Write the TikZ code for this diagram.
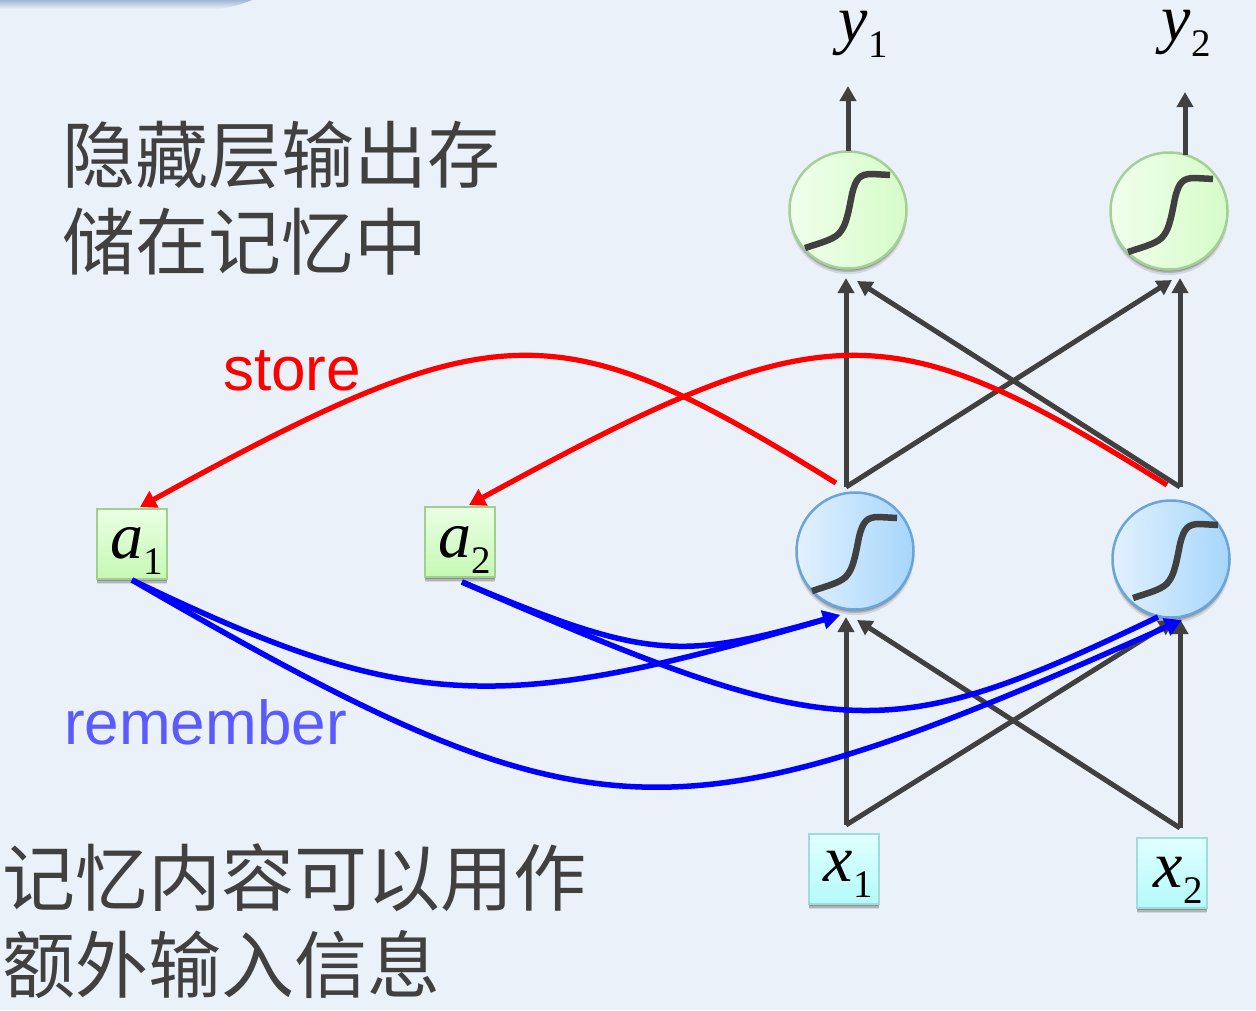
\documentclass[tikz,border=0pt]{standalone}
\usepackage{fontspec}
\setmainfont{Liberation Sans}
\newfontfamily\cjk{Noto Sans CJK SC}[Scale=1]
\newfontfamily\tms{Liberation Serif}
\usetikzlibrary{arrows.meta,shadows}
\definecolor{bgc}{HTML}{EAF1F8}
\definecolor{ink}{HTML}{404040}
\definecolor{rem}{HTML}{5A5AFF}
\definecolor{bandc}{HTML}{A0B8D6}
\newcommand{\mv}[3]{{\tms\fontsize{66}{66}\selectfont\itshape #1\kern#3pt\raisebox{-16pt}{\fontsize{39}{39}\selectfont\upshape #2}}}
\newcommand{\sigcurve}[1]{\draw[sigline,shift={(#1)}] (-43,38) .. controls (-25,32) and (-12,29) .. (-7,21) .. controls (-2,14) and (0,5) .. (4,-16) .. controls (8,-32) and (12,-36) .. (24,-36) -- (42,-35);}
\tikzset{
  x=1pt,y=-1pt,
  softshadow/.style={
    general shadow={shadow xshift=0pt,shadow yshift=-5pt,shadow scale=1.01,fill=black,fill opacity=.10},
    general shadow={shadow xshift=0pt,shadow yshift=-3.5pt,shadow scale=1.0,fill=black,fill opacity=.16},
    general shadow={shadow xshift=0pt,shadow yshift=-2pt,shadow scale=1.0,fill=black,fill opacity=.20}},
  neuron/.style={circle,minimum size=117pt,inner sep=0pt,line width=2.5pt,softshadow},
  outn/.style={neuron,draw=outborder,left color=outl,right color=outr},
  hidn/.style={neuron,draw=hidborder,left color=hidl,right color=hidr},
  membox/.style={rectangle,minimum size=70pt,inner sep=0pt,line width=2.5pt,softshadow,draw=memb,top color=memt,bottom color=memd},
  inbox/.style={rectangle,minimum size=70pt,inner sep=0pt,line width=2.5pt,softshadow,draw=inb,top color=int,bottom color=ind},
  sigline/.style={draw=ink,line width=6.5pt},
  garrow/.style={draw=ink,line width=5pt,-{Triangle[width=16pt,length=15pt]}},
  rarrow/.style={draw=red,line width=5.2pt,-{Triangle[width=18pt,length=16pt]}},
  barrow/.style={draw=blue,line width=5.5pt,-{Triangle[width=18pt,length=17pt]}},
  bline/.style={draw=blue,line width=5.5pt},
  bigtext/.style={text=ink,anchor=west,align=left,inner sep=0pt,font=\cjk\fontsize{73}{87.5}\selectfont},
  lab/.style={anchor=west,inner sep=0pt,font=\fontsize{62}{62}\selectfont},
  var/.style={inner sep=0pt,text=black,anchor=base west},
}
\definecolor{outborder}{HTML}{A6CF98}
\definecolor{outl}{HTML}{F0FFEC}
\definecolor{outr}{HTML}{D6FCC8}
\definecolor{hidborder}{HTML}{6BA5D8}
\definecolor{hidl}{HTML}{E2F1FF}
\definecolor{hidr}{HTML}{A6D6FC}
\definecolor{memb}{HTML}{A0D08C}
\definecolor{memt}{HTML}{EAFFE4}
\definecolor{memd}{HTML}{C6F8B4}
\definecolor{inb}{HTML}{A0DCDC}
\definecolor{int}{HTML}{E0FFFF}
\definecolor{ind}{HTML}{B4FAFA}
\begin{document}
\begin{tikzpicture}
\useasboundingbox (0,0) rectangle (1256,1010);
\fill[bgc] (0,0) rectangle (1256,1010);
% top-left band
\begin{scope}
\clip (0,0) -- (252,0) .. controls (240,5) and (225,9) .. (215,9) -- (0,9) -- cycle;
\shade[top color=bandc,bottom color=bgc] (0,0) rectangle (260,9);
\end{scope}
% nodes
\node[outn] (o1) at (848,210) {};
\node[outn] (o2) at (1169,211) {};
\node[hidn] (h1) at (855,551) {};
\node[hidn] (h2) at (1171,559) {};
\node[membox] (a1) at (132,544) {};
\node[membox] (a2) at (460,542) {};
\node[inbox] (x1) at (844,869) {};
\node[inbox] (x2) at (1172,873) {};
\node[var] (a1t) at (110,558) {\mv{a}{1}{0}};
\node[var] (a2t) at (438,557) {\mv{a}{2}{0}};
\node[var] (x1t) at (823,881) {\mv{x}{1}{1}};
\node[var] (x2t) at (1153,887) {\mv{x}{2}{1}};
\node[var] (y1) at (838,41) {\mv{y}{1}{1}};
\node[var] (y2) at (1161,40) {\mv{y}{2}{1}};
\sigcurve{848,210}
\sigcurve{1171,214}
\sigcurve{855,553}
\sigcurve{1176,560}
% ports
\coordinate (o1out) at (848,151);
\coordinate (o1end) at (848,86);
\coordinate (o2out) at (1185,155);
\coordinate (o2end) at (1185,92);
\coordinate (o1inA) at (846,278);
\coordinate (o1inB) at (857,281);
\coordinate (o2inA) at (1172,280);
\coordinate (o2inB) at (1180,278);
\coordinate (h1out) at (846,487);
\coordinate (h2out) at (1180,487);
\coordinate (h1inA) at (846,617);
\coordinate (h1inB) at (857,620);
\coordinate (h2inA) at (1174,620);
\coordinate (h2inB) at (1180,619);
\coordinate (x1out) at (846,825);
\coordinate (x2out) at (1180,828);
\coordinate (h1red) at (836,483);
\coordinate (h2red) at (1167,485);
\coordinate (a1in) at (140,507);
\coordinate (a2in) at (469,505);
\coordinate (a1out) at (132,580);
\coordinate (a2out) at (462,582);
\coordinate (h1blue) at (840,615);
\coordinate (h2blueA) at (1158,617);
\coordinate (h2blueB) at (1182,620);
% gray connectors
\draw[garrow] (o1out) -- (o1end);
\draw[garrow] (o2out) -- (o2end);
\draw[garrow] (h1out) -- (o1inA);
\draw[garrow] (h1out) -- (o2inA);
\draw[garrow] (h2out) -- (o2inB);
\draw[garrow] (h2out) -- (o1inB);
\draw[garrow] (x1out) -- (h1inA);
\draw[garrow] (x1out) -- (h2inA);
\draw[garrow] (x2out) -- (h2inB);
\draw[garrow] (x2out) -- (h1inB);
% store
\draw[rarrow] (h1red) .. controls (557,310) and (498,310) .. (a1in);
\draw[rarrow] (h2red) .. controls (888,310) and (826,310) .. (a2in);
% remember
\draw[barrow] (a1out) .. controls (410,714) and (500,714) .. (h1blue);
\draw[barrow] (a2out) .. controls (647,660) and (680,660) .. (h1blue);
\draw[bline] (a2out) .. controls (840,747) and (885,747) .. (h2blueA);
\draw[barrow] (a1out) .. controls (595,848) and (670,848) .. (h2blueB);
% text
\node[bigtext] (t1) at (62,198) {隐藏层输出存\\储在记忆中};
\node[bigtext] (t2) at (2,921) {记忆内容可以用作\\额外输入信息};
\node[lab,text=red] (store) at (223,371) {store};
\node[lab,text=rem] (remember) at (64,722) {remember};
\end{tikzpicture}
\end{document}
